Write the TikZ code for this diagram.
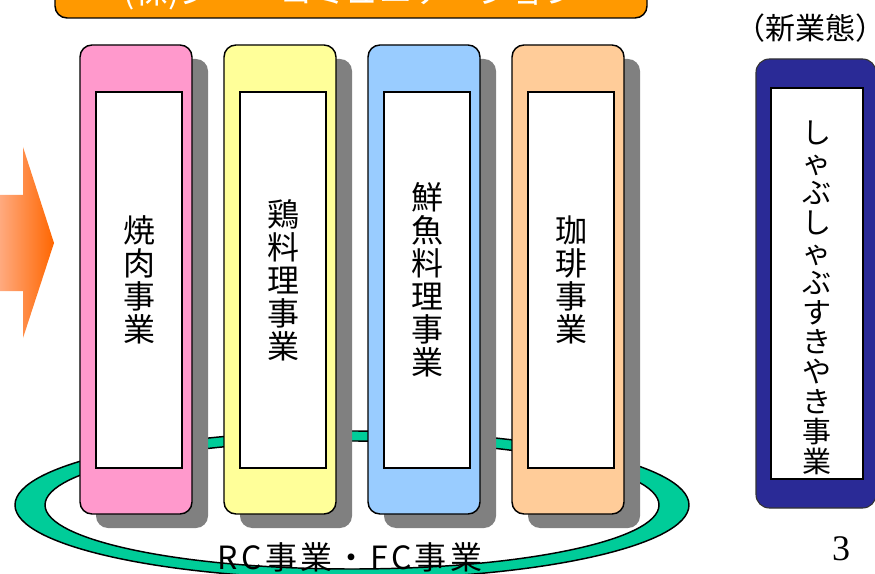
\documentclass[tikz,border=0pt]{standalone}
\usepackage{fontspec}
\setmainfont{Noto Sans CJK JP}
\newfontfamily\pagefont{Liberation Serif}

\definecolor{bannerorange}{HTML}{FF9900}
\definecolor{yakipink}{HTML}{FF99CC}
\definecolor{toriyellow}{HTML}{FFFF99}
\definecolor{sakanablue}{HTML}{99CCFF}
\definecolor{coffeeorange}{HTML}{FFCC99}
\definecolor{ringgreen}{HTML}{00CC99}
\definecolor{newblue}{HTML}{2A2A96}
\definecolor{arrowlight}{HTML}{FFB08A}
\definecolor{arrowdark}{HTML}{FF6600}

\begin{document}
\begin{tikzpicture}[x=0.75pt, y=-0.75pt,
  colbox/.style={draw=black, line width=1.1pt, rounded corners=9pt},
  shadowbox/.style={fill=gray, draw=none, rounded corners=9pt},
  namebox/.style={draw=black, fill=white, line width=1.1pt, align=center,
    inner sep=0pt, minimum width=64.5pt, minimum height=282pt,
    font=\fontsize{24}{24.75}\selectfont}]

\useasboundingbox (0,0) rectangle (875,574);
\clip (0,0) rectangle (875,574);

% ring under the four columns
\draw[fill=ringgreen, line width=1.1pt, even odd rule]
  (352,505) ellipse [x radius=337, y radius=74]
  (352,505) ellipse [x radius=307, y radius=64];

% company banner
\draw[fill=bannerorange, line width=1.1pt, rounded corners=9pt] (55,-40) rectangle (647,18);
\node[text=white, anchor=base, font=\fontsize{25}{25}\selectfont] (firm) at (351,4) {(株)ジー・コミュニケーション};

% arrow
\shade[left color=arrowlight, right color=arrowdark]
  (-5,195) -- (23,195) -- (23,147) -- (54,243) -- (23,338) -- (23,291) -- (-5,291) -- cycle;

% shadows
\draw[shadowbox] (96,59) rectangle (208,528);
\draw[shadowbox] (240,59) rectangle (352,528);
\draw[shadowbox] (384,59) rectangle (496,528);
\draw[shadowbox] (528,59) rectangle (640,528);

% columns
\draw[colbox, fill=yakipink] (80,45) rectangle (192,514);
\draw[colbox, fill=toriyellow] (224,45) rectangle (336,514);
\draw[colbox, fill=sakanablue] (368,45) rectangle (480,514);
\draw[colbox, fill=coffeeorange] (512,45) rectangle (624,514);

\node[namebox] (yaki) at (139,280) {焼\\肉\\事\\業};
\node[namebox] (tori) at (283,280) {鶏\\料\\理\\事\\業};
\node[namebox] (sakana) at (427,280) {鮮\\魚\\料\\理\\事\\業};
\node[namebox] (coffee) at (571,280) {珈\\琲\\事\\業};

\node[font=\fontsize{24}{24}\selectfont\addfontfeatures{LetterSpace=10}] (rcfc) at (350,557) {RC事業・FC事業};

% new business
\node[inner sep=0pt, font=\fontsize{22.5}{22.5}\selectfont] (newlabel) at (810,28) {\kern-0.5em（新業態）\kern-0.55em};
\draw[fill=newblue, draw=black!80, line width=0.8pt, rounded corners=10pt] (756,59) rectangle (876,508);
\node[namebox, minimum width=69pt, minimum height=293.25pt] (shabubox) at (817,283.5) {};
\node[align=center, font=\fontsize{21.75}{22.4}\selectfont] (shabu) at (817,298)
  {し\\ゃ\\ぶ\\し\\ゃ\\ぶ\\す\\き\\や\\き\\事\\業};

\node[font=\pagefont\fontsize{27}{27}\selectfont] (pagenum) at (841,549) {3};

\end{tikzpicture}
\end{document}
